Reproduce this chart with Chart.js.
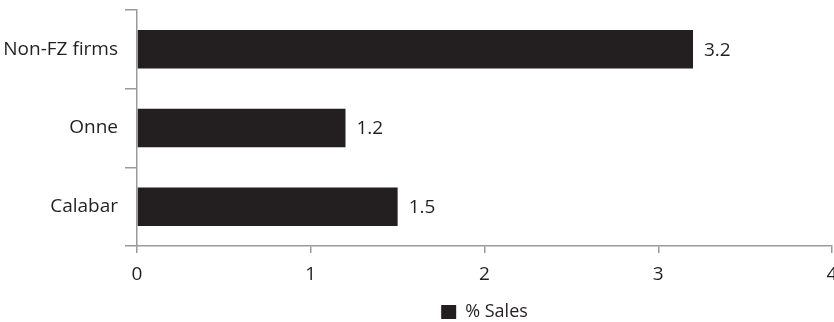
<!DOCTYPE html>
<html>
<head>
<meta charset="utf-8">
<script src="https://cdn.jsdelivr.net/npm/chart.js@4"></script>
<style>
  html, body { margin: 0; padding: 0; background: #fff; }
  #wrap { width: 834px; height: 322px; }
</style>
</head>
<body>
<div id="wrap"><canvas id="c" width="834" height="322"></canvas></div>
<script>
// Share of sales, by firm group
const categories = ['Non-FZ firms', 'Onne', 'Calabar'];
const salesShare = [3.2, 1.2, 1.5];
const xTicks = [0, 1, 2, 3, 4];
const seriesName = '% Sales';

const INK = '#231f20';
const AXIS = '#9a9a9a';
const FONT = "'Open Sans', 'Noto Sans', sans-serif";
const SIZE = 19;

// Writes each bar's value just past its end
const valueLabels = {
  id: 'valueLabels',
  afterDatasetsDraw(chart) {
    const ctx = chart.ctx;
    ctx.save();
    ctx.fillStyle = INK;
    ctx.font = SIZE + 'px ' + FONT;
    ctx.textAlign = 'left';
    ctx.textBaseline = 'middle';
    chart.getDatasetMeta(0).data.forEach((bar, i) => {
      ctx.fillText(salesShare[i].toFixed(1), bar.x + 11, bar.y + 1);
    });
    ctx.restore();
  }
};

// Centres the legend under the plotting area rather than the whole canvas
const legendUnderPlot = {
  id: 'legendUnderPlot',
  afterLayout(chart) {
    if (chart.legend) {
      chart.legend.left = chart.chartArea.left;
      chart.legend.right = chart.chartArea.right;
    }
  }
};

new Chart(document.getElementById('c'), {
  type: 'bar',
  data: {
    labels: categories,
    datasets: [{
      label: seriesName,
      data: salesShare,
      backgroundColor: INK,
      borderWidth: 0,
      categoryPercentage: 1,
      barPercentage: 0.49
    }]
  },
  plugins: [valueLabels, legendUnderPlot],
  options: {
    indexAxis: 'y',
    responsive: false,
    animation: false,
    devicePixelRatio: 1,
    layout: { padding: { top: 10, right: 2, left: 0, bottom: -9 } },
    scales: {
      x: {
        min: 0,
        max: 4,
        afterBuildTicks(scale) { scale.ticks = xTicks.map(v => ({ value: v })); },
        afterFit(scale) { scale.height = 55; scale.paddingRight = 0; scale.paddingLeft = 0; },
        border: { color: AXIS, width: 1.5 },
        grid: { display: true, drawOnChartArea: false, drawTicks: true, tickLength: 7, color: AXIS, lineWidth: 1.5 },
        ticks: { color: INK, font: { family: FONT, size: SIZE }, padding: 10 }
      },
      y: {
        afterFit(scale) { scale.width = 137; scale.paddingTop = 0; scale.paddingBottom = 0; },
        border: { color: AXIS, width: 1.5 },
        grid: { display: true, offset: true, drawOnChartArea: false, drawTicks: true, tickLength: 12, color: AXIS, lineWidth: 1.5 },
        ticks: { color: INK, font: { family: FONT, size: SIZE }, padding: 7 }
      }
    },
    plugins: {
      legend: {
        position: 'bottom',
        labels: {
          color: INK,
          font: { family: FONT, size: 18 },
          boxWidth: 15,
          boxHeight: 14,
          padding: 2
        }
      },
      tooltip: { enabled: false }
    }
  }
});
</script>
</body>
</html>
